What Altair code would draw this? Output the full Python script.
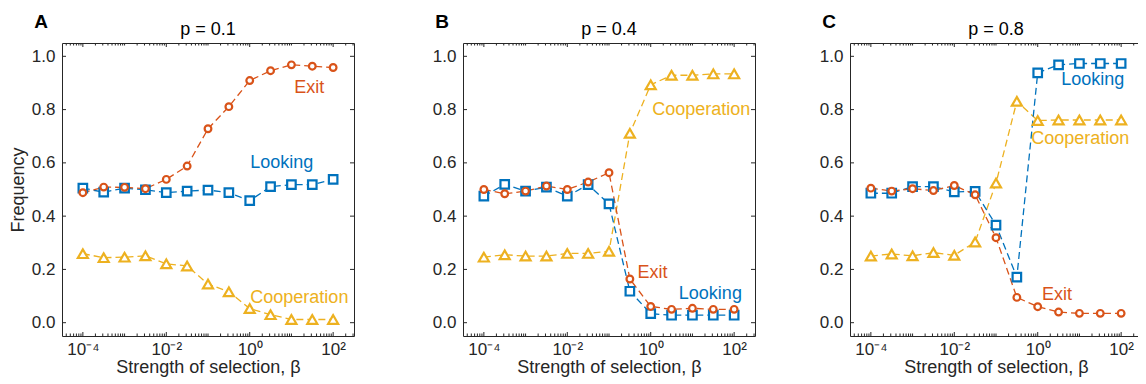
import altair as alt
import pandas as pd

# ---------------- data ----------------
beta_exp = [-4, -3.5, -3, -2.5, -2, -1.5, -1, -0.5, 0, 0.5, 1, 1.5, 2]

exit_a = [0.488, 0.509, 0.508, 0.503, 0.538, 0.588, 0.728, 0.811, 0.909, 0.946, 0.968, 0.963, 0.958]
looking_a = [0.505, 0.490, 0.505, 0.499, 0.488, 0.494, 0.498, 0.488, 0.458, 0.511, 0.518, 0.518, 0.538]
coop_a = [0.259, 0.244, 0.246, 0.251, 0.221, 0.213, 0.145, 0.116, 0.053, 0.030, 0.012, 0.012, 0.012]

exit_b = [0.500, 0.484, 0.494, 0.513, 0.500, 0.528, 0.563, 0.164, 0.061, 0.050, 0.054, 0.050, 0.050]
looking_b = [0.475, 0.519, 0.494, 0.509, 0.475, 0.518, 0.446, 0.118, 0.034, 0.028, 0.028, 0.028, 0.028]
coop_b = [0.246, 0.255, 0.250, 0.250, 0.260, 0.260, 0.268, 0.711, 0.893, 0.929, 0.929, 0.934, 0.934]

exit_c = [0.505, 0.494, 0.503, 0.496, 0.515, 0.480, 0.319, 0.095, 0.060, 0.040, 0.035, 0.035, 0.035]
looking_c = [0.486, 0.486, 0.511, 0.511, 0.491, 0.493, 0.366, 0.171, 0.938, 0.968, 0.973, 0.973, 0.973]
coop_c = [0.250, 0.258, 0.251, 0.263, 0.253, 0.303, 0.524, 0.831, 0.759, 0.761, 0.761, 0.761, 0.761]

series_names = ["Cooperation", "Looking", "Exit"]
series_colors = ["#EDB120", "#0072BD", "#D95319"]

panel_letters = ["A", "B", "C"]
panel_titles = ["p = 0.1", "p = 0.4", "p = 0.8"]

# annotation labels: (series, log10 beta, frequency)
labels_a = [("Exit", 1.43, 0.88), ("Looking", 0.77, 0.60), ("Cooperation", 1.19, 0.093)]
labels_b = [("Cooperation", 1.21, 0.80), ("Exit", 0.04, 0.186), ("Looking", 1.43, 0.109)]
labels_c = [("Looking", 1.32, 0.91), ("Cooperation", 1.02, 0.69), ("Exit", 0.46, 0.103)]

x_tick_exp = [-4, -2, 0, 2]
y_ticks = [0.0, 0.2, 0.4, 0.6, 0.8, 1.0]

FONT = "Liberation Sans"
AXC = "#262626"
XMIN, XMAX = 10 ** -4.5, 10 ** 2.5
XMID = 10 ** -1
YMIN, YMAX = -0.05, 1.05

xscale = alt.Scale(type="log", domain=[XMIN, XMAX], nice=False)
yscale = alt.Scale(domain=[YMIN, YMAX], nice=False, zero=False)
color_scale = alt.Scale(domain=series_names, range=series_colors)
shape_scale = alt.Scale(domain=series_names, range=["triangle-up", "square", "circle"])
size_scale = alt.Scale(domain=series_names, range=[100, 45, 85])

# tick mark positions (axis decoration)
major_x = [10.0 ** e for e in x_tick_exp]
minor_x = []
for d in range(-5, 3):
    for m in range(1, 10):
        v = m * 10.0 ** d
        if XMIN <= v <= XMAX and not any(abs(v - t) / t < 1e-9 for t in major_x):
            minor_x.append(v)

label_expr = ("datum.value < 0.001 ? '10⁻⁴' : datum.value < 0.1 ? '10⁻²' : "
              "datum.value < 10 ? '10⁰' : '10²'")


def panel(idx, exit_v, looking_v, coop_v, labels, first):
    rows = []
    for name, vals in zip(series_names, [coop_v, looking_v, exit_v]):
        for e, v in zip(beta_exp, vals):
            rows.append({"series": name, "beta": 10.0 ** e, "freq": v})
    df = pd.DataFrame(rows)

    x_axis = alt.Axis(values=major_x, labelExpr=label_expr, title="Strength of selection, β",
                      labelPadding=5, titlePadding=1, labelFlush=False)
    if first:
        y_axis = alt.Axis(values=y_ticks, format=".1f", title="Frequency", labelPadding=7,
                          titlePadding=4)
    else:
        y_axis = alt.Axis(values=y_ticks, format=".1f", title=None, labelPadding=7)

    base = alt.Chart(df)
    lines = base.mark_line(strokeDash=[7, 4], strokeWidth=1.3).encode(
        x=alt.X("beta:Q", scale=xscale, axis=x_axis),
        y=alt.Y("freq:Q", scale=yscale, axis=y_axis),
        color=alt.Color("series:N", scale=color_scale, legend=None),
        detail="series:N",
    )
    points = base.mark_point(fill="white", filled=False, strokeWidth=2.2, opacity=1).encode(
        x=alt.X("beta:Q", scale=xscale),
        y=alt.Y("freq:Q", scale=yscale),
        stroke=alt.Stroke("series:N", scale=color_scale, legend=None),
        shape=alt.Shape("series:N", scale=shape_scale, legend=None),
        size=alt.Size("series:N", scale=size_scale, legend=None),
        order=alt.Order("order:Q"),
    ).transform_calculate(
        order="datum.series == 'Cooperation' ? 0 : datum.series == 'Looking' ? 1 : 2"
    )

    ldf = pd.DataFrame([{"series": s, "beta": 10.0 ** e, "freq": f} for s, e, f in labels])
    texts = alt.Chart(ldf).mark_text(font=FONT, fontSize=18, align="center",
                                     baseline="middle").encode(
        x=alt.X("beta:Q", scale=xscale),
        y=alt.Y("freq:Q", scale=yscale),
        text="series:N",
        color=alt.Color("series:N", scale=color_scale, legend=None),
    )

    mx = pd.DataFrame({"v": major_x})
    mnx = pd.DataFrame({"v": minor_x})
    yt = pd.DataFrame({"v": y_ticks})
    tk = dict(thickness=1, color=AXC, opacity=1)
    ticks = [
        alt.Chart(mx).mark_tick(orient="vertical", size=4, yOffset=-2, **tk).encode(
            x=alt.X("v:Q", scale=xscale), y=alt.datum(YMIN)),
        alt.Chart(mx).mark_tick(orient="vertical", size=4, yOffset=2, **tk).encode(
            x=alt.X("v:Q", scale=xscale), y=alt.datum(YMAX)),
        alt.Chart(mnx).mark_tick(orient="vertical", size=2.4, yOffset=-1.2, **tk).encode(
            x=alt.X("v:Q", scale=xscale), y=alt.datum(YMIN)),
        alt.Chart(mnx).mark_tick(orient="vertical", size=2.4, yOffset=1.2, **tk).encode(
            x=alt.X("v:Q", scale=xscale), y=alt.datum(YMAX)),
        alt.Chart(yt).mark_tick(orient="horizontal", size=4, xOffset=2, **tk).encode(
            y=alt.Y("v:Q", scale=yscale), x=alt.datum(XMIN)),
        alt.Chart(yt).mark_tick(orient="horizontal", size=4, xOffset=-2, **tk).encode(
            y=alt.Y("v:Q", scale=yscale), x=alt.datum(XMAX)),
    ]

    letter = alt.Chart(pd.DataFrame({"t": [panel_letters[idx]]})).mark_text(
        font=FONT, fontSize=19, fontWeight="bold", align="center", baseline="alphabetic",
        xOffset=-21, yOffset=-15, color="black"
    ).encode(x=alt.datum(XMIN), y=alt.datum(YMAX), text="t:N")

    title = alt.Chart(pd.DataFrame({"t": [panel_titles[idx]]})).mark_text(
        font=FONT, fontSize=18, align="center", baseline="alphabetic",
        yOffset=-8, color="black"
    ).encode(x=alt.datum(XMID), y=alt.datum(YMAX), text="t:N")

    return alt.layer(lines, points, texts, *ticks, letter, title).properties(
        width=292, height=293,
    )


row1 = alt.hconcat(
    panel(0, exit_a, looking_a, coop_a, labels_a, True),
    panel(1, exit_b, looking_b, coop_b, labels_b, False),
    spacing=76,
)
chart = alt.hconcat(
    row1,
    panel(2, exit_c, looking_c, coop_c, labels_c, False),
    spacing=62,
).properties(
    autosize=alt.AutoSizeParams(type="none"),
    padding={"left": 54, "top": 35, "right": 1076, "bottom": 333},
).configure_view(
    stroke=AXC, strokeWidth=1
).configure_axis(
    labelFont=FONT, titleFont=FONT, labelFontSize=17, titleFontSize=18,
    labelColor=AXC, titleColor=AXC, titleFontWeight="normal",
    domain=False, ticks=False, tickSize=0, grid=False,
)

chart.save("out.html", embed_options={"renderer": "svg", "actions": False})
